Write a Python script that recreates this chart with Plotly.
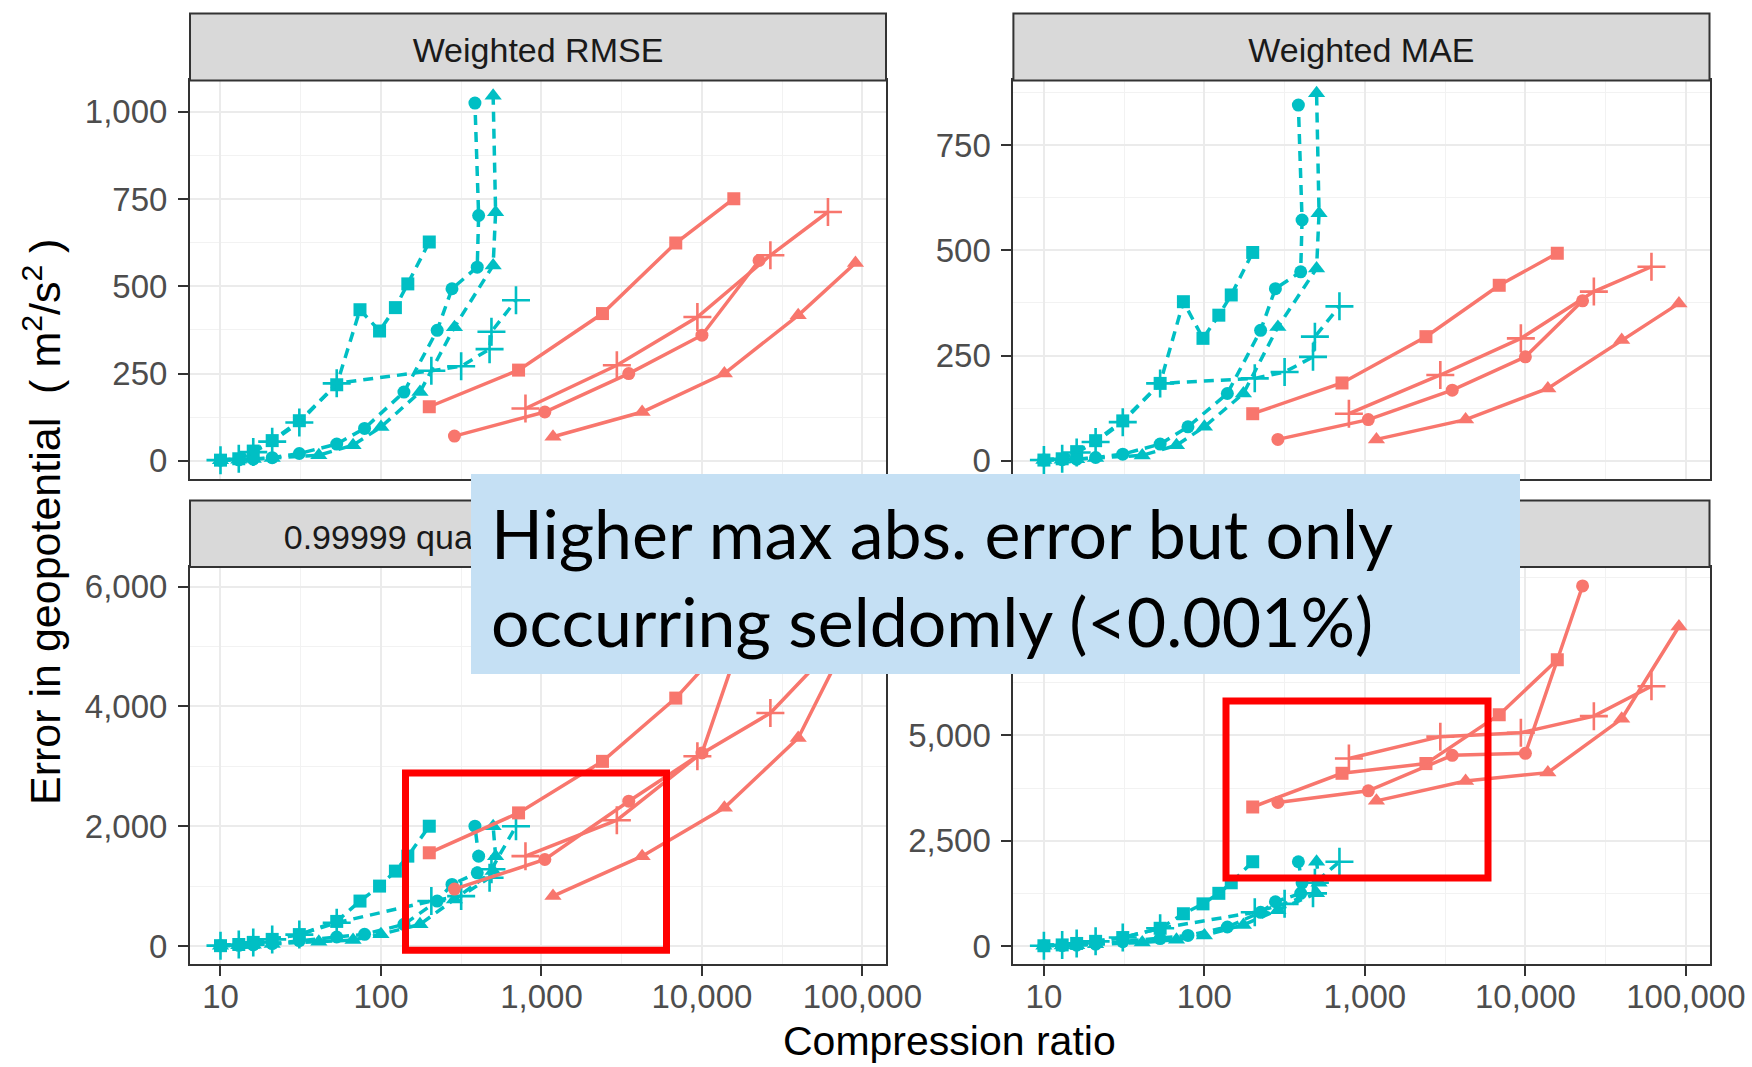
import plotly.graph_objects as go

W, H = 1752, 1067

# ---------------- data ----------------
panel_titles = ["Weighted RMSE", "Weighted MAE",
                "0.99999 quantile of absolute error", "Max absolute error"]

x_tick_vals = [10, 100, 1000, 10000, 100000]
x_tick_text = ["10", "100", "1,000", "10,000", "100,000"]

# compression ratios (x) per series
teal_square_x = [10, 13, 16, 21, 31, 53, 74, 98, 123, 147, 200]
teal_plus_x = [10, 13, 16, 21, 31, 53, 206, 316, 475, 488, 694]
teal_circle_x = [10, 13, 16, 21, 31, 53, 79, 139, 224, 277, 398, 406, 385]
teal_triangle_x = [10, 13, 16, 21, 41, 67, 100, 175, 287, 500, 518, 500]
red_square_x = [200, 720, 2400, 6870, 15800]
red_plus_x = [795, 2950, 9370, 26700, 61000]
red_circle_x = [287, 1050, 3500, 10000, 22700]
red_triangle_x = [1180, 4240, 13800, 39800, 90500]

# Weighted RMSE
rmse_teal_square = [2, 6, 28, 58, 115, 218, 433, 372, 439, 507, 627]
rmse_teal_plus = [2, 6, 25, 55, 110, 222, 258, 271, 320, 370, 460]
rmse_teal_circle = [2, 3, 5, 9, 21, 48, 93, 197, 374, 493, 555, 703, 1025]
rmse_teal_triangle = [2, 3, 5, 8, 16, 45, 97, 197, 383, 560, 712, 1046]
rmse_red_square = [155, 260, 422, 624, 751]
rmse_red_plus = [150, 274, 412, 589, 713]
rmse_red_circle = [71, 140, 250, 360, 574]
rmse_red_triangle = [69, 140, 250, 417, 567]

# Weighted MAE
mae_teal_square = [2, 5, 22, 48, 95, 184, 378, 291, 346, 394, 495]
mae_teal_plus = [2, 5, 20, 45, 92, 184, 196, 211, 247, 295, 367]
mae_teal_circle = [2, 3, 4, 8, 16, 40, 81, 160, 310, 409, 449, 572, 845]
mae_teal_triangle = [2, 3, 4, 7, 13, 37, 81, 160, 318, 457, 588, 873]
mae_red_square = [112, 185, 295, 417, 493]
mae_red_plus = [112, 204, 291, 402, 461]
mae_red_circle = [51, 98, 168, 247, 380]
mae_red_triangle = [51, 98, 172, 287, 374]

# 0.99999 quantile of absolute error
q_teal_square = [5, 25, 60, 110, 190, 410, 750, 1000, 1250, 1500, 2000]
q_teal_plus = [5, 25, 60, 110, 190, 389, 750, 833, 1140, 1280, 2000]
q_teal_circle = [5, 10, 20, 40, 90, 150, 194, 361, 750, 1028, 1222, 1500, 2000]
q_teal_triangle = [5, 10, 20, 35, 70, 100, 194, 361, 778, 1250, 1500, 2000]
q_red_square = [1556, 2222, 3083, 4139, 5200]
q_red_plus = [1500, 2100, 3167, 3889, 4900]
q_red_circle = [950, 1444, 2417, 3222, 6000]
q_red_triangle = [833, 1500, 2306, 3472, 5370]

# Max absolute error
max_teal_square = [5, 25, 60, 110, 200, 420, 765, 1000, 1250, 1500, 2000]
max_teal_plus = [5, 25, 60, 110, 200, 420, 800, 1000, 1250, 1500, 2000]
max_teal_circle = [5, 10, 20, 45, 100, 175, 250, 450, 800, 1050, 1250, 1500, 2000]
max_teal_triangle = [5, 10, 20, 40, 80, 150, 250, 500, 850, 1250, 1500, 2000]
max_red_square = [3300, 4100, 4330, 5490, 6798]
max_red_plus = [4450, 4970, 5063, 5457, 6167]
max_red_circle = [3407, 3683, 4527, 4574, 8548]
max_red_triangle = [3446, 3919, 4116, 5394, 7586]

# y ticks per panel
tl_ticks = [0, 250, 500, 750, 1000]
tl_text = ["0", "250", "500", "750", "1,000"]
tr_ticks = [0, 250, 500, 750]
tr_text = ["0", "250", "500", "750"]
bl_ticks = [0, 2000, 4000, 6000]
bl_text = ["0", "2,000", "4,000", "6,000"]
br_ticks = [0, 2500, 5000, 7500]
br_text = ["0", "2,500", "5,000", "7,500"]

callout_text = "Higher max abs. error but only<br>occurring seldomly (&lt;0.001%)"

# ---------------- styling / geometry ----------------
TEAL = "#00BFC4"
RED = "#F8766D"
FONT = "Liberation Sans, Arial, sans-serif"


def px_x(p):
    return p / W


def px_y(p):
    return 1 - p / H


# panel pixel boxes (left, right, top, bottom)
LEFT = (190, 886)
RIGHT = (1013.4, 1709.5)
TOP = (80.4, 479)
BOT = (567, 964)
STRIP_TOP = (13.4, 80.4)
STRIP_BOT = (500.5, 567)

series_x = {
    "teal_square": teal_square_x, "teal_plus": teal_plus_x,
    "teal_circle": teal_circle_x, "teal_triangle": teal_triangle_x,
    "red_square": red_square_x, "red_plus": red_plus_x,
    "red_circle": red_circle_x, "red_triangle": red_triangle_x,
}
panel_y = [
    {"teal_square": rmse_teal_square, "teal_plus": rmse_teal_plus,
     "teal_circle": rmse_teal_circle, "teal_triangle": rmse_teal_triangle,
     "red_square": rmse_red_square, "red_plus": rmse_red_plus,
     "red_circle": rmse_red_circle, "red_triangle": rmse_red_triangle},
    {"teal_square": mae_teal_square, "teal_plus": mae_teal_plus,
     "teal_circle": mae_teal_circle, "teal_triangle": mae_teal_triangle,
     "red_square": mae_red_square, "red_plus": mae_red_plus,
     "red_circle": mae_red_circle, "red_triangle": mae_red_triangle},
    {"teal_square": q_teal_square, "teal_plus": q_teal_plus,
     "teal_circle": q_teal_circle, "teal_triangle": q_teal_triangle,
     "red_square": q_red_square, "red_plus": q_red_plus,
     "red_circle": q_red_circle, "red_triangle": q_red_triangle},
    {"teal_square": max_teal_square, "teal_plus": max_teal_plus,
     "teal_circle": max_teal_circle, "teal_triangle": max_teal_triangle,
     "red_square": max_red_square, "red_plus": max_red_plus,
     "red_circle": max_red_circle, "red_triangle": max_red_triangle},
]

symbols = {"square": ("square", 13), "plus": ("cross-thin-open", 20),
           "circle": ("circle", 13), "triangle": ("triangle-up", 15)}

fig = go.Figure()

for pi in range(4):
    xa = "x" if pi == 0 else f"x{pi + 1}"
    ya = "y" if pi == 0 else f"y{pi + 1}"
    for key, xs in series_x.items():
        grp, shp = key.split("_")
        col = TEAL if grp == "teal" else RED
        dash = "10px,7px" if grp == "teal" else "solid"
        sym, size = symbols[shp]
        marker = dict(symbol=sym, size=size, color=col)
        if shp == "plus":
            marker["line"] = dict(color=col, width=2.6)
        else:
            marker["line"] = dict(width=0)
        fig.add_trace(go.Scatter(
            x=xs, y=panel_y[pi][key], mode="lines+markers",
            line=dict(color=col, width=3.5, dash=dash),
            marker=marker, xaxis=xa, yaxis=ya, showlegend=False,
            hoverinfo="skip"))

GRID = "#EBEBEB"
common_x = dict(
    type="log", range=[0.81, 5.147], tickmode="array",
    tickvals=x_tick_vals, ticktext=x_tick_text,
    showgrid=True, gridcolor=GRID, gridwidth=2,
    minor=dict(tickmode="array", tickvals=[31.6, 316, 3162, 31623],
               showgrid=True, gridcolor="#F2F2F2", gridwidth=1, ticks=""),
    showline=True, linecolor="#333333", linewidth=2, mirror=True,
    zeroline=False, fixedrange=True, automargin=False,
    tickfont=dict(family=FONT, size=33, color="#4D4D4D"),
    tickcolor="#333333", tickwidth=2, ticklen=10,
)


def yaxis(rng, tv, tt, minor_vals, dom_y, anchor):
    return dict(
        range=rng, tickmode="array", tickvals=tv, ticktext=tt,
        domain=dom_y, anchor=anchor, automargin=False,
        showgrid=True, gridcolor=GRID, gridwidth=2,
        minor=dict(tickmode="array", tickvals=minor_vals, showgrid=True,
                   gridcolor="#F2F2F2", gridwidth=1, ticks=""),
        zeroline=True, zerolinecolor=GRID, zerolinewidth=2,
        showline=True, linecolor="#333333", linewidth=2, mirror=True,
        ticks="outside", ticklen=10, tickwidth=2, tickcolor="#333333",
        ticklabelstandoff=4,
        tickfont=dict(family=FONT, size=33, color="#4D4D4D"),
        fixedrange=True)


dom_left = [px_x(LEFT[0]), px_x(LEFT[1])]
dom_right = [px_x(RIGHT[0]), px_x(RIGHT[1])]
dom_top = [px_y(TOP[1]), px_y(TOP[0])]
dom_bot = [px_y(BOT[1]), px_y(BOT[0])]

fig.update_layout(
    xaxis=dict(common_x, domain=dom_left, anchor="y", ticks="", showticklabels=False),
    xaxis2=dict(common_x, domain=dom_right, anchor="y2", ticks="", showticklabels=False),
    xaxis3=dict(common_x, domain=dom_left, anchor="y3", ticks="outside", ticklabelstandoff=-8),
    xaxis4=dict(common_x, domain=dom_right, anchor="y4", ticks="outside", ticklabelstandoff=-8),
    yaxis=yaxis([-52, 1090], tl_ticks, tl_text, [125, 375, 625, 875], dom_top, "x"),
    yaxis2=yaxis([-43, 903.5], tr_ticks, tr_text, [125, 375, 625, 875], dom_top, "x2"),
    yaxis3=yaxis([-301, 6328], bl_ticks, bl_text, [1000, 3000, 5000], dom_bot, "x3"),
    yaxis4=yaxis([-428, 8998], br_ticks, br_text, [1250, 3750, 6250, 8750], dom_bot, "x4"),
)

shapes = []
strips = [(LEFT, STRIP_TOP), (RIGHT, STRIP_TOP), (LEFT, STRIP_BOT), (RIGHT, STRIP_BOT)]
for ((xl, xr), (yt, yb)), title in zip(strips, panel_titles):
    shapes.append(dict(
        type="rect", xref="paper", yref="paper",
        x0=px_x(xl), x1=px_x(xr), y0=px_y(yb), y1=px_y(yt),
        fillcolor="#D9D9D9", line=dict(color="#333333", width=2), layer="above",
        label=dict(text=title, font=dict(family=FONT, size=34, color="#1A1A1A"),
                   textposition="middle center")))

# red highlight rectangles
for (x0, x1, y0, y1) in [(405.5, 666.5, 773, 950.3), (1226, 1488, 701, 878)]:
    shapes.append(dict(type="rect", xref="paper", yref="paper",
                       x0=px_x(x0), x1=px_x(x1), y0=px_y(y1), y1=px_y(y0),
                       line=dict(color="#FF0000", width=7), layer="above"))

# light blue callout box
shapes.append(dict(type="rect", xref="paper", yref="paper",
                   x0=px_x(471), x1=px_x(1520), y0=px_y(674), y1=px_y(474),
                   fillcolor="#C5E0F4", line=dict(width=0), layer="above"))

annotations = [
    dict(text="Compression ratio", x=px_x(949.5), y=px_y(1041), xref="paper", yref="paper",
         showarrow=False, xanchor="center", yanchor="middle",
         font=dict(family=FONT, size=41, color="#000000")),
    dict(text="Error in geopotential  ( m<sup>2</sup>/s<sup>2</sup> )",
         x=px_x(42), y=px_y(522), xref="paper", yref="paper", textangle=-90,
         showarrow=False, xanchor="center", yanchor="middle",
         font=dict(family=FONT, size=43, color="#000000")),
    dict(text=callout_text, x=px_x(489), y=px_y(576.5), align="left",
         xref="paper", yref="paper", showarrow=False, xanchor="left", yanchor="middle",
         font=dict(family="Lato, sans-serif", size=68, color="#000000")),
]

fig.update_layout(
    width=W, height=H, autosize=False, margin=dict(l=0, r=0, t=0, b=0, pad=0),
    paper_bgcolor="white", plot_bgcolor="white",
    showlegend=False, hovermode=False,
    shapes=shapes, annotations=annotations,
)

fig.write_html("out.html", config={"responsive": False, "displayModeBar": False},
               post_script="document.body.style.margin='0';")
